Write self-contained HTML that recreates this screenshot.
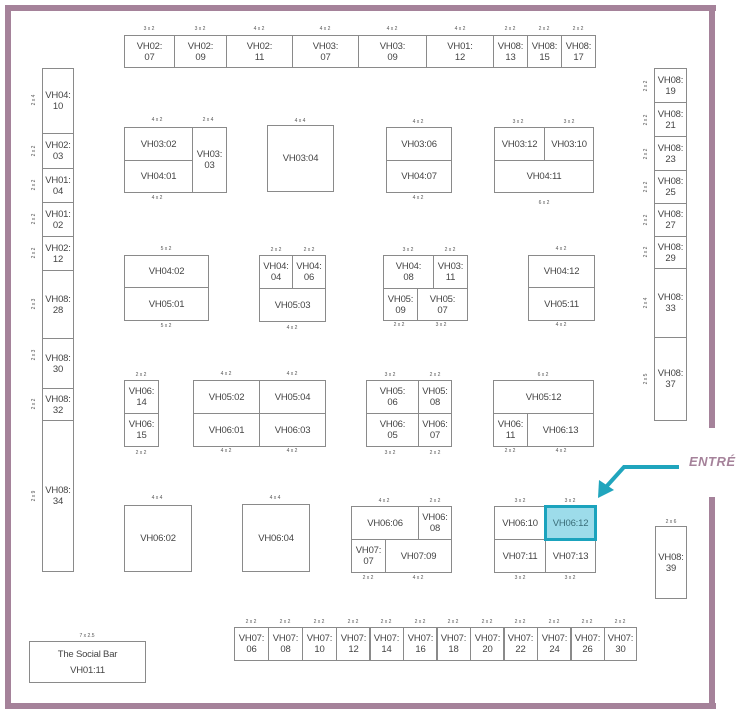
<!DOCTYPE html>
<html><head><meta charset="utf-8"><style>
body{margin:0;width:736px;height:713px;background:#fff;position:relative;overflow:hidden;font-family:"Liberation Sans",sans-serif}
.c{position:absolute;border:1px solid #8a8a8a;box-sizing:border-box;display:flex;align-items:center;justify-content:center;text-align:center;font-size:9.5px;letter-spacing:-0.2px;line-height:11px;color:#444;white-space:nowrap}
.s{position:absolute;width:30px;text-align:center;font-size:5px;color:#555;line-height:6px}
.r{position:absolute;font-size:5px;color:#555;transform:rotate(-90deg);width:30px;text-align:center;line-height:6px}
.w{position:absolute;background:#a5829a}
</style></head><body>
<div class="w" style="left:5px;top:5px;width:711px;height:6px"></div>
<div class="w" style="left:5px;top:5px;width:6px;height:704px"></div>
<div class="w" style="left:5px;top:703px;width:711px;height:6px"></div>
<div class="w" style="left:709px;top:5px;width:6px;height:423px"></div>
<div class="w" style="left:709px;top:497px;width:6px;height:212px"></div>

<!-- top row -->
<div class="c" style="left:124px;top:35px;width:51px;height:33px">VH02:<br>07</div>
<div class="c" style="left:174px;top:35px;width:53px;height:33px">VH02:<br>09</div>
<div class="c" style="left:226px;top:35px;width:67px;height:33px">VH02:<br>11</div>
<div class="c" style="left:292px;top:35px;width:67px;height:33px">VH03:<br>07</div>
<div class="c" style="left:358px;top:35px;width:69px;height:33px">VH03:<br>09</div>
<div class="c" style="left:426px;top:35px;width:68px;height:33px">VH01:<br>12</div>
<div class="c" style="left:493px;top:35px;width:35px;height:33px">VH08:<br>13</div>
<div class="c" style="left:527px;top:35px;width:35px;height:33px">VH08:<br>15</div>
<div class="c" style="left:561px;top:35px;width:35px;height:33px">VH08:<br>17</div>
<div class="s" style="left:134px;top:26px">3 x 2</div><div class="s" style="left:185px;top:26px">3 x 2</div><div class="s" style="left:244px;top:26px">4 x 2</div><div class="s" style="left:310px;top:26px">4 x 2</div><div class="s" style="left:377px;top:26px">4 x 2</div><div class="s" style="left:445px;top:26px">4 x 2</div><div class="s" style="left:495px;top:26px">2 x 2</div><div class="s" style="left:529px;top:26px">2 x 2</div><div class="s" style="left:563px;top:26px">2 x 2</div>

<!-- left column -->
<div class="c" style="left:42px;top:68px;width:32px;height:66px">VH04:<br>10</div>
<div class="c" style="left:42px;top:133px;width:32px;height:36px">VH02:<br>03</div>
<div class="c" style="left:42px;top:168px;width:32px;height:35px">VH01:<br>04</div>
<div class="c" style="left:42px;top:202px;width:32px;height:35px">VH01:<br>02</div>
<div class="c" style="left:42px;top:236px;width:32px;height:35px">VH02:<br>12</div>
<div class="c" style="left:42px;top:270px;width:32px;height:69px">VH08:<br>28</div>
<div class="c" style="left:42px;top:338px;width:32px;height:51px">VH08:<br>30</div>
<div class="c" style="left:42px;top:388px;width:32px;height:33px">VH08:<br>32</div>
<div class="c" style="left:42px;top:420px;width:32px;height:152px">VH08:<br>34</div>
<div class="r" style="left:19px;top:97px">2 x 4</div><div class="r" style="left:19px;top:148px">2 x 2</div><div class="r" style="left:19px;top:182px">2 x 2</div><div class="r" style="left:19px;top:216px">2 x 2</div><div class="r" style="left:19px;top:250px">2 x 2</div><div class="r" style="left:19px;top:301px">2 x 3</div><div class="r" style="left:19px;top:352px">2 x 3</div><div class="r" style="left:19px;top:401px">2 x 2</div><div class="r" style="left:19px;top:493px">2 x 9</div>

<!-- right column -->
<div class="c" style="left:654px;top:68px;width:33px;height:35px">VH08:<br>19</div>
<div class="c" style="left:654px;top:102px;width:33px;height:35px">VH08:<br>21</div>
<div class="c" style="left:654px;top:136px;width:33px;height:35px">VH08:<br>23</div>
<div class="c" style="left:654px;top:170px;width:33px;height:34px">VH08:<br>25</div>
<div class="c" style="left:654px;top:203px;width:33px;height:34px">VH08:<br>27</div>
<div class="c" style="left:654px;top:236px;width:33px;height:33px">VH08:<br>29</div>
<div class="c" style="left:654px;top:268px;width:33px;height:70px">VH08:<br>33</div>
<div class="c" style="left:654px;top:337px;width:33px;height:84px">VH08:<br>37</div>
<div class="r" style="left:631px;top:83px">2 x 2</div><div class="r" style="left:631px;top:117px">2 x 2</div><div class="r" style="left:631px;top:151px">2 x 2</div><div class="r" style="left:631px;top:184px">2 x 2</div><div class="r" style="left:631px;top:217px">2 x 2</div><div class="r" style="left:631px;top:249px">2 x 2</div><div class="r" style="left:631px;top:300px">2 x 4</div><div class="r" style="left:631px;top:376px">2 x 5</div>
<div class="c" style="left:655px;top:526px;width:32px;height:73px">VH08:<br>39</div>
<div class="s" style="left:656px;top:519px">2 x 6</div>

<!-- row 1 -->
<div class="c" style="left:124px;top:127px;width:69px;height:34px">VH03:02</div>
<div class="c" style="left:124px;top:160px;width:69px;height:33px">VH04:01</div>
<div class="c" style="left:192px;top:127px;width:35px;height:66px">VH03:<br>03</div>
<div class="s" style="left:142px;top:117px">4 x 2</div><div class="s" style="left:193px;top:117px">2 x 4</div><div class="s" style="left:142px;top:195px">4 x 2</div>
<div class="c" style="left:267px;top:125px;width:67px;height:67px">VH03:04</div>
<div class="s" style="left:285px;top:118px">4 x 4</div>
<div class="c" style="left:386px;top:127px;width:66px;height:34px">VH03:06</div>
<div class="c" style="left:386px;top:160px;width:66px;height:33px">VH04:07</div>
<div class="s" style="left:403px;top:119px">4 x 2</div><div class="s" style="left:403px;top:195px">4 x 2</div>
<div class="c" style="left:494px;top:127px;width:51px;height:34px">VH03:12</div>
<div class="c" style="left:544px;top:127px;width:50px;height:34px">VH03:10</div>
<div class="c" style="left:494px;top:160px;width:100px;height:33px">VH04:11</div>
<div class="s" style="left:503px;top:119px">3 x 2</div><div class="s" style="left:554px;top:119px">3 x 2</div><div class="s" style="left:529px;top:200px">6 x 2</div>

<!-- row 2 -->
<div class="c" style="left:124px;top:255px;width:85px;height:33px">VH04:02</div>
<div class="c" style="left:124px;top:287px;width:85px;height:34px">VH05:01</div>
<div class="s" style="left:151px;top:246px">5 x 2</div><div class="s" style="left:151px;top:323px">5 x 2</div>
<div class="c" style="left:259px;top:255px;width:34px;height:34px">VH04:<br>04</div>
<div class="c" style="left:292px;top:255px;width:34px;height:34px">VH04:<br>06</div>
<div class="c" style="left:259px;top:288px;width:67px;height:34px">VH05:03</div>
<div class="s" style="left:261px;top:247px">2 x 2</div><div class="s" style="left:294px;top:247px">2 x 2</div><div class="s" style="left:277px;top:325px">4 x 2</div>
<div class="c" style="left:383px;top:255px;width:51px;height:34px">VH04:<br>08</div>
<div class="c" style="left:433px;top:255px;width:35px;height:34px">VH03:<br>11</div>
<div class="c" style="left:383px;top:288px;width:35px;height:33px">VH05:<br>09</div>
<div class="c" style="left:417px;top:288px;width:51px;height:33px">VH05:<br>07</div>
<div class="s" style="left:393px;top:247px">3 x 2</div><div class="s" style="left:435px;top:247px">2 x 2</div><div class="s" style="left:384px;top:322px">2 x 2</div><div class="s" style="left:426px;top:322px">3 x 2</div>
<div class="c" style="left:528px;top:255px;width:67px;height:33px">VH04:12</div>
<div class="c" style="left:528px;top:287px;width:67px;height:34px">VH05:11</div>
<div class="s" style="left:546px;top:246px">4 x 2</div><div class="s" style="left:546px;top:322px">4 x 2</div>

<!-- row 3 -->
<div class="c" style="left:124px;top:380px;width:35px;height:34px">VH06:<br>14</div>
<div class="c" style="left:124px;top:413px;width:35px;height:34px">VH06:<br>15</div>
<div class="s" style="left:126px;top:372px">2 x 2</div><div class="s" style="left:126px;top:450px">2 x 2</div>
<div class="c" style="left:193px;top:380px;width:67px;height:34px">VH05:02</div>
<div class="c" style="left:259px;top:380px;width:67px;height:34px">VH05:04</div>
<div class="c" style="left:193px;top:413px;width:67px;height:34px">VH06:01</div>
<div class="c" style="left:259px;top:413px;width:67px;height:34px">VH06:03</div>
<div class="s" style="left:211px;top:371px">4 x 2</div><div class="s" style="left:277px;top:371px">4 x 2</div><div class="s" style="left:211px;top:448px">4 x 2</div><div class="s" style="left:277px;top:448px">4 x 2</div>
<div class="c" style="left:366px;top:380px;width:53px;height:34px">VH05:<br>06</div>
<div class="c" style="left:418px;top:380px;width:34px;height:34px">VH05:<br>08</div>
<div class="c" style="left:366px;top:413px;width:53px;height:34px">VH06:<br>05</div>
<div class="c" style="left:418px;top:413px;width:34px;height:34px">VH06:<br>07</div>
<div class="s" style="left:375px;top:372px">3 x 2</div><div class="s" style="left:420px;top:372px">2 x 2</div><div class="s" style="left:375px;top:450px">3 x 2</div><div class="s" style="left:420px;top:450px">2 x 2</div>
<div class="c" style="left:493px;top:380px;width:101px;height:34px">VH05:12</div>
<div class="c" style="left:493px;top:413px;width:35px;height:34px">VH06:<br>11</div>
<div class="c" style="left:527px;top:413px;width:67px;height:34px">VH06:13</div>
<div class="s" style="left:528px;top:372px">6 x 2</div><div class="s" style="left:495px;top:448px">2 x 2</div><div class="s" style="left:546px;top:448px">4 x 2</div>

<!-- row 4 -->
<div class="c" style="left:124px;top:505px;width:68px;height:67px">VH06:02</div>
<div class="s" style="left:142px;top:495px">4 x 4</div>
<div class="c" style="left:242px;top:504px;width:68px;height:68px">VH06:04</div>
<div class="s" style="left:260px;top:495px">4 x 4</div>
<div class="c" style="left:351px;top:506px;width:68px;height:34px">VH06:06</div>
<div class="c" style="left:418px;top:506px;width:34px;height:34px">VH06:<br>08</div>
<div class="c" style="left:351px;top:539px;width:35px;height:34px">VH07:<br>07</div>
<div class="c" style="left:385px;top:539px;width:67px;height:34px">VH07:09</div>
<div class="s" style="left:369px;top:498px">4 x 2</div><div class="s" style="left:420px;top:498px">2 x 2</div><div class="s" style="left:353px;top:575px">2 x 2</div><div class="s" style="left:403px;top:575px">4 x 2</div>
<div class="c" style="left:494px;top:506px;width:52px;height:34px">VH06:10</div>
<div class="c" style="left:494px;top:539px;width:52px;height:34px">VH07:11</div>
<div class="c" style="left:545px;top:539px;width:51px;height:34px">VH07:13</div>
<div class="c" style="left:544px;top:505px;width:53px;height:36px;background:#9ddcea;border:3px solid #1ba3bd;color:#3a6d78">VH06:12</div>
<div class="s" style="left:505px;top:498px">3 x 2</div><div class="s" style="left:555px;top:498px">3 x 2</div><div class="s" style="left:505px;top:575px">3 x 2</div><div class="s" style="left:555px;top:575px">3 x 2</div>

<!-- bottom row -->
<div class="c" style="left:234px;top:627px;width:35px;height:34px">VH07:<br>06</div>
<div class="c" style="left:268px;top:627px;width:35px;height:34px">VH07:<br>08</div>
<div class="c" style="left:302px;top:627px;width:35px;height:34px">VH07:<br>10</div>
<div class="c" style="left:336px;top:627px;width:35px;height:34px">VH07:<br>12</div>
<div class="c" style="left:369px;top:627px;width:35px;height:34px">VH07:<br>14</div>
<div class="c" style="left:403px;top:627px;width:35px;height:34px">VH07:<br>16</div>
<div class="c" style="left:436px;top:627px;width:35px;height:34px">VH07:<br>18</div>
<div class="c" style="left:470px;top:627px;width:35px;height:34px">VH07:<br>20</div>
<div class="c" style="left:503px;top:627px;width:35px;height:34px">VH07:<br>22</div>
<div class="c" style="left:537px;top:627px;width:35px;height:34px">VH07:<br>24</div>
<div class="c" style="left:570px;top:627px;width:35px;height:34px">VH07:<br>26</div>
<div class="c" style="left:604px;top:627px;width:33px;height:34px">VH07:<br>30</div>
<div class="s" style="left:236px;top:619px">2 x 2</div><div class="s" style="left:270px;top:619px">2 x 2</div><div class="s" style="left:304px;top:619px">2 x 2</div><div class="s" style="left:338px;top:619px">2 x 2</div><div class="s" style="left:371px;top:619px">2 x 2</div><div class="s" style="left:405px;top:619px">2 x 2</div><div class="s" style="left:438px;top:619px">2 x 2</div><div class="s" style="left:472px;top:619px">2 x 2</div><div class="s" style="left:505px;top:619px">2 x 2</div><div class="s" style="left:539px;top:619px">2 x 2</div><div class="s" style="left:572px;top:619px">2 x 2</div><div class="s" style="left:605px;top:619px">2 x 2</div>

<div class="c" style="left:29px;top:641px;width:117px;height:42px;flex-direction:column;justify-content:space-around;padding:4px 0">
<div>The Social Bar</div><div>VH01:11</div></div>
<div class="s" style="left:72px;top:633px">7 x 2.5</div>

<svg style="position:absolute;left:0;top:0" width="736" height="713">
<polyline points="679,467 624,467 606,487" fill="none" stroke="#20a5bd" stroke-width="4"/>
<polygon points="598,498 599,480 614,490" fill="#20a5bd"/>
</svg>
<div style="position:absolute;left:689px;top:454px;font-size:13px;font-weight:bold;font-style:italic;color:#a5829a;letter-spacing:0.5px">ENTRÉ</div>
</body></html>
